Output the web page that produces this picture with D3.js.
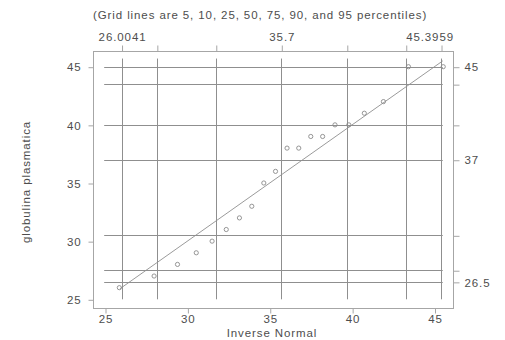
<!DOCTYPE html>
<html>
<head>
<meta charset="utf-8">
<script src="https://cdn.jsdelivr.net/npm/d3@7"></script>
<style>
  html, body { margin: 0; padding: 0; background: #ffffff; }
  svg { display: block; }
  text { font-family: "Liberation Sans", Arial, Helvetica, sans-serif; fill: #4d4d4d; letter-spacing: 0.9px; }
</style>
</head>
<body>
<svg id="chart" width="505" height="340"></svg>
<script>
// Observed values of globulina plasmatica, sorted
const observed = [26, 27, 28, 29, 30, 31, 32, 33, 35, 36, 38, 38, 39, 39, 40, 40, 41, 42, 45, 45];
// Matching inverse-normal quantiles
const inverseNormal = [25.87, 27.98, 29.40, 30.54, 31.50, 32.36, 33.16, 33.91, 34.64, 35.35,
                       36.05, 36.76, 37.49, 38.21, 38.96, 39.80, 40.74, 41.90, 43.42, 45.53];

// Percentile grid (5, 10, 25, 50, 75, 90, 95) on each axis
const xPercentiles = [26.0041, 28.146, 31.724, 35.7, 39.676, 43.254, 45.3959];
const yPercentiles = [26.5, 27.5, 30.5, 37, 40, 43.5, 45];
// Labelled percentiles (5th, 50th, 95th)
const xPercentileLabels = ["26.0041", "35.7", "45.3959"];
const yPercentileLabels = ["26.5", "37", "45"];

// Regular axis ticks
const xTicks = [25, 30, 35, 40, 45];
const yTicks = [25, 30, 35, 40, 45];

// Extent of grid and reference line
const gridX = [24.95, 45.5];
const gridY = [25, 45.7];
const refLine = [25.9, 45.5];

const title = "(Grid lines are 5, 10, 25, 50, 75, 90, and 95 percentiles)";
const xTitle = "Inverse Normal";
const yTitle = "globulina plasmatica";

const box = { left: 93, right: 453, top: 51, bottom: 308 };
const tickLen = 5;

const svg = d3.select("#chart");

const x = d3.scaleLinear().domain([25, 45]).range([105, 434.5]);
const y = d3.scaleLinear().domain([25, 45]).range([299.3, 66.7]);

const gridColor = "#8f8f8f";
const boxColor = "#a6a6a6";

// Plot frame
svg.append("rect")
  .attr("x", box.left + 0.5).attr("y", box.top + 0.5)
  .attr("width", box.right - box.left).attr("height", box.bottom - box.top)
  .attr("fill", "none").attr("stroke", boxColor).attr("stroke-width", 1);

// Vertical percentile grid lines
svg.append("g").selectAll("line").data(xPercentiles).join("line")
  .attr("x1", d => Math.round(x(d)) + 0.5).attr("x2", d => Math.round(x(d)) + 0.5)
  .attr("y1", y(gridY[1])).attr("y2", y(gridY[0]))
  .attr("stroke", gridColor).attr("stroke-width", 1);

// Horizontal percentile grid lines
svg.append("g").selectAll("line").data(yPercentiles).join("line")
  .attr("x1", x(gridX[0])).attr("x2", x(gridX[1]))
  .attr("y1", d => Math.round(y(d)) + 0.5).attr("y2", d => Math.round(y(d)) + 0.5)
  .attr("stroke", gridColor).attr("stroke-width", 1);

// Reference line y = x
svg.append("line")
  .attr("x1", x(refLine[0])).attr("y1", y(refLine[0]))
  .attr("x2", x(refLine[1])).attr("y2", y(refLine[1]))
  .attr("stroke", "#8f8f8f").attr("stroke-width", 0.9);

// Observations vs. inverse normal
svg.append("g").selectAll("circle").data(observed).join("circle")
  .attr("cx", (d, i) => x(inverseNormal[i]))
  .attr("cy", d => y(d))
  .attr("r", 2.1)
  .attr("fill", "none").attr("stroke", "#8a8a8a").attr("stroke-width", 0.9);

// Axes
function styleAxis(g) {
  g.select(".domain").remove();
  g.selectAll(".tick line").attr("stroke", boxColor);
  g.selectAll(".tick text")
    .attr("font-size", 11.5)
    .attr("font-family", null)
    .attr("fill", "#4d4d4d");
}

// Bottom: inverse normal scale
svg.append("g")
  .attr("transform", `translate(0.5,${box.bottom + 0.5})`)
  .call(d3.axisBottom(x).tickValues(xTicks).tickFormat(d3.format("d")).tickSize(tickLen).tickPadding(1))
  .call(styleAxis);

// Left: observed scale
svg.append("g")
  .attr("transform", `translate(${box.left + 0.5},0.5)`)
  .call(d3.axisLeft(y).tickValues(yTicks).tickFormat(d3.format("d")).tickSize(tickLen).tickPadding(7))
  .call(styleAxis);

// Top: percentile ticks of inverse normal, labels on 5th/50th/95th
const topAxis = svg.append("g")
  .attr("transform", `translate(0.5,${box.top + 0.5})`)
  .call(d3.axisTop(x).tickValues(xPercentiles)
    .tickFormat((d, i) => [0, 3, 6].includes(i) ? xPercentileLabels[[0, 3, 6].indexOf(i)] : "")
    .tickSize(tickLen + 1).tickPadding(5))
  .call(styleAxis);
// keep labels inside the frame width
topAxis.selectAll(".tick text").each(function (d) {
  const t = d3.select(this);
  const w = this.getComputedTextLength();
  if (x(d) + w / 2 > box.right) t.attr("text-anchor", "end").attr("x", box.right - x(d));
});

// Right: percentile ticks of observed values, labels on 5th/50th/95th
svg.append("g")
  .attr("transform", `translate(${box.right + 0.5},0.5)`)
  .call(d3.axisRight(y).tickValues(yPercentiles)
    .tickFormat((d, i) => [0, 3, 6].includes(i) ? yPercentileLabels[[0, 3, 6].indexOf(i)] : "")
    .tickSize(tickLen + 1).tickPadding(5))
  .call(styleAxis);

// Titles
svg.append("text")
  .attr("x", box.left).attr("y", 19)
  .attr("font-size", 11.5)
  .text(title);

svg.append("text")
  .attr("x", 272).attr("y", 337)
  .attr("text-anchor", "middle")
  .attr("font-size", 11.5)
  .text(xTitle);

svg.append("text")
  .attr("transform", `translate(30,${182}) rotate(-90)`)
  .attr("text-anchor", "middle")
  .attr("font-size", 11.5)
  .text(yTitle);
</script>
</body>
</html>
